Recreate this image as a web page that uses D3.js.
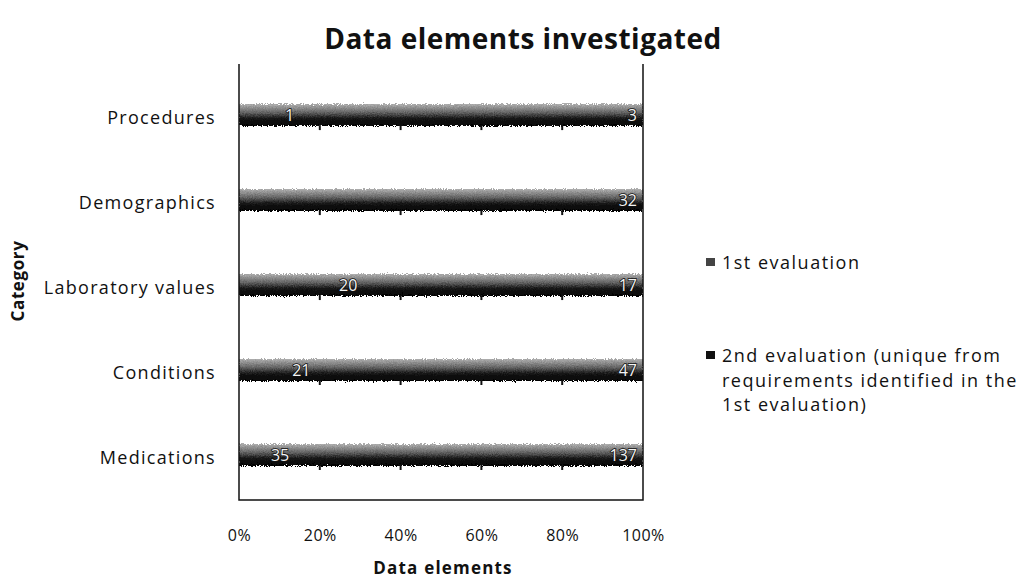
<!DOCTYPE html>
<html>
<head>
<meta charset="utf-8">
<script src="https://cdn.jsdelivr.net/npm/d3@7"></script>
<style>
  html, body { margin: 0; padding: 0; background: #fff; }
  svg { display: block; }
  text { font-family: "Open Sans", "Noto Sans", sans-serif; fill: #111; }
</style>
</head>
<body>
<svg id="chart" width="1027" height="581"></svg>
<script>
// Categories from top to bottom
const categories = ["Procedures", "Demographics", "Laboratory values", "Conditions", "Medications"];
// Data elements found in each evaluation round
const firstEval = [1, 0, 20, 21, 35];
const secondEval = [3, 32, 17, 47, 137];
const seriesNames = ["1st evaluation", "2nd evaluation (unique from requirements identified in the 1st evaluation)"];
const tickValues = [0, 0.2, 0.4, 0.6, 0.8, 1];

const svg = d3.select("#chart");
const plot = { left: 239, right: 643, top: 64, bottom: 500 };

const x = d3.scaleLinear().domain([0, 1]).range([plot.left, plot.right]);
const y = d3.scaleBand().domain(categories).range([plot.top + 6, plot.bottom]).paddingInner(0.74).paddingOuter(0.4);

// Grainy dark fill for the bars
const defs = svg.append("defs");
const grad = defs.append("linearGradient").attr("id", "barGrad").attr("x1", 0).attr("y1", 0).attr("x2", 0).attr("y2", 1);
grad.append("stop").attr("offset", "0%").attr("stop-color", "#b0b0b0");
grad.append("stop").attr("offset", "40%").attr("stop-color", "#606060");
grad.append("stop").attr("offset", "65%").attr("stop-color", "#161616");
grad.append("stop").attr("offset", "100%").attr("stop-color", "#030303");
const grain = defs.append("filter").attr("id", "grain").attr("filterUnits", "userSpaceOnUse")
  .attr("x", plot.left).attr("y", plot.top).attr("width", plot.right - plot.left).attr("height", plot.bottom - plot.top);
grain.append("feTurbulence").attr("type", "fractalNoise").attr("baseFrequency", "0.9").attr("numOctaves", 2).attr("seed", 3).attr("result", "noise");
grain.append("feDisplacementMap").attr("in", "SourceGraphic").attr("in2", "noise").attr("scale", 5).attr("xChannelSelector", "R").attr("yChannelSelector", "G");

// Stack the two series as shares of each category's total
const rows = categories.map((c, i) => {
  const total = firstEval[i] + secondEval[i];
  return { category: c, first: firstEval[i], second: secondEval[i], total };
});
const stack = d3.stack().keys(["first", "second"])
  .value((d, k) => d[k] / d.total);
const layers = stack(rows);

const g = svg.append("g").attr("filter", "url(#grain)");
layers.forEach(layer => {
  g.selectAll(null).data(layer).enter().append("rect")
    .attr("x", d => x(d[0]))
    .attr("y", d => y(d.data.category))
    .attr("width", d => Math.max(0, x(d[1]) - x(d[0])))
    .attr("height", y.bandwidth())
    .attr("fill", "url(#barGrad)")
    .attr("shape-rendering", "crispEdges");
});

// Small gridline stubs just under each bar
const stubs = svg.append("g");
categories.forEach(c => {
  tickValues.slice(1, -1).forEach(t => {
    stubs.append("line")
      .attr("x1", x(t)).attr("x2", x(t))
      .attr("y1", y(c) + y.bandwidth() - 1).attr("y2", y(c) + y.bandwidth() + 4)
      .attr("stroke", "#111").attr("stroke-width", 2);
  });
});

// Value labels: first series centred in its segment, second near the bar end
const labelG = svg.append("g").attr("font-size", 16);
function valueLabel(px, cat, anchor, value) {
  labelG.append("text")
    .attr("x", px)
    .attr("y", y(cat) + y.bandwidth() / 2 + 6)
    .attr("text-anchor", anchor)
    .style("fill", "#f4f4f4").attr("stroke", "#111").attr("stroke-width", 1.6)
    .attr("paint-order", "stroke")
    .text(value);
}
layers[0].forEach(d => {
  if (d.data.first === 0) return;
  valueLabel(x((d[0] + d[1]) / 2), d.data.category, "middle", d.data.first);
});
layers[1].forEach(d => {
  valueLabel(x(d[1]) - 6, d.data.category, "end", d.data.second);
});

// Plot frame
svg.append("path")
  .attr("d", `M${plot.left},${plot.top}V${plot.bottom}H${plot.right}V${plot.top}`)
  .attr("fill", "none").attr("stroke", "#111").attr("stroke-width", 1.5);

// Category axis labels
const yAxis = d3.axisLeft(y).tickSize(0).tickPadding(23);
svg.append("g").attr("transform", `translate(${plot.left},0)`).call(yAxis)
  .call(a => a.select(".domain").remove())
  .selectAll("text").attr("font-size", 18).attr("dy", "0.5em").style("letter-spacing", "1.3px").attr("font-family", null);

// Percent axis labels
const xAxis = d3.axisBottom(x).tickValues(tickValues).tickFormat(d3.format(".0%")).tickSize(0).tickPadding(30);
svg.append("g").attr("transform", `translate(0,${plot.bottom})`).call(xAxis)
  .call(a => a.select(".domain").remove())
  .selectAll("text").attr("font-size", 16).style("letter-spacing", "0.5px").attr("font-family", null);

// Titles
svg.append("text").attr("x", 523).attr("y", 49).attr("text-anchor", "middle")
  .attr("font-size", 28).attr("font-weight", "bold").style("letter-spacing", "0.5px").text("Data elements investigated");
svg.append("text").attr("x", 443).attr("y", 574).attr("text-anchor", "middle")
  .attr("font-size", 17).attr("font-weight", "bold").style("letter-spacing", "1.2px").text("Data elements");
svg.append("text").attr("transform", "translate(24,281) rotate(-90)").attr("text-anchor", "middle")
  .attr("font-size", 17).attr("font-weight", "bold").style("letter-spacing", "0.6px").text("Category");

// Legend
const legend = svg.append("g").attr("font-size", 18).style("letter-spacing", "1.5px");
const legendLines = [["1st evaluation"], ["2nd evaluation (unique from", "requirements identified in the", "1st evaluation)"]];
const legendY = [269, 362];
legendLines.forEach((lines, i) => {
  legend.append("rect").attr("x", 706).attr("y", legendY[i] - 11).attr("width", 9).attr("height", 8)
    .attr("fill", i === 0 ? "#444" : "#111");
  lines.forEach((t, j) => {
    legend.append("text").attr("x", 722).attr("y", legendY[i] + j * 24.5).text(t);
  });
});
</script>
</body>
</html>
